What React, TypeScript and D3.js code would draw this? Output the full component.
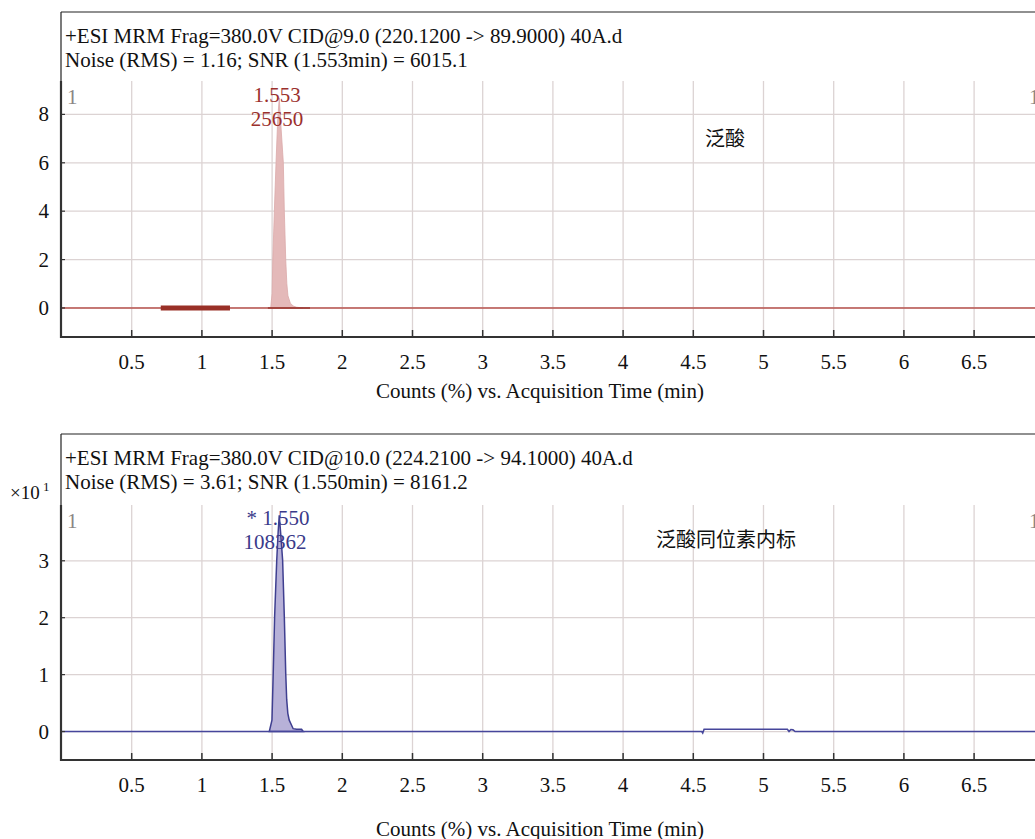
import React from "react"
import { scaleLinear, area, line } from "d3"

// x ticks (min)
const xTicks = [0.5, 1, 1.5, 2, 2.5, 3, 3.5, 4, 4.5, 5, 5.5, 6, 6.5]

// top trace: 泛酸, counts x10^? (axis units)
const topTicks = [0, 2, 4, 6, 8]
const topPeak: [number, number][] = [
  [1.49, 0], [1.5, 0.6], [1.505, 2], [1.516, 4], [1.528, 6], [1.54, 7.8],
  [1.551, 8.68], [1.562, 7.6], [1.58, 6], [1.587, 4], [1.597, 2], [1.605, 1.0],
  [1.613, 0.5], [1.63, 0.2], [1.65, 0.08], [1.675, 0.03], [1.72, 0]
]
const topBar = [0.707, 1.2]
const topIntegration = [1.47, 1.77]

// bottom trace: 泛酸同位素内标, x10^1
const bottomTicks = [0, 1, 2, 3]
const bottomPeak: [number, number][] = [
  [1.48, 0], [1.499, 0.2], [1.508, 1.03], [1.518, 2.02], [1.533, 3.01], [1.543, 3.5],
  [1.551, 3.8], [1.562, 3.45], [1.575, 3.01], [1.587, 2.02], [1.597, 1.03], [1.604, 0.56],
  [1.612, 0.32], [1.622, 0.2], [1.65, 0.05], [1.675, 0.04], [1.71, 0.04], [1.722, 0]
]
const bottomBase: [number, number][] = [
  [0, 0], [1.48, 0], [1.722, 0], [4.56, 0], [4.567, -0.025], [4.577, 0.04],
  [5.17, 0.04], [5.182, 0.0], [5.195, 0.035], [5.21, 0.03], [5.225, 0], [7.2, 0]
]

const W = 1035
const H = 839
const FONT = "'Liberation Serif', 'Times New Roman', serif"
const CJK = "'Noto Sans CJK SC', sans-serif"

type PanelProps = {
  top: number
  plotTop: number
  axisY: number
  yDomain: [number, number]
  ticks: number[]
  header: string[]
  lineColor: string
  children: (x: any, y: any) => React.ReactNode
  titleY: number
}

function Panel(props: PanelProps) {
  const { top, plotTop, axisY, yDomain, ticks, header, children, titleY } = props
  const x = scaleLinear().domain([0, 7]).range([61.5, 61.5 + 7 * 140.4])
  const y = scaleLinear().domain(yDomain).range([axisY, plotTop])
  return (
    <g>
      {/* frame */}
      <line x1={61} x2={W} y1={top} y2={top} stroke="#222" strokeWidth={1.2} />
      <line x1={61} x2={61} y1={top} y2={plotTop} stroke="#222" strokeWidth={1.2} />
      {header.map((h, i) => (
        <text key={i} x={65} y={top + 24 + i * 24} dominantBaseline="central" fontSize={21} fontFamily={FONT} fill="#111">
          {h}
        </text>
      ))}
      {/* grid */}
      {xTicks.map(t => (
        <line key={"gx" + t} x1={x(t)} x2={x(t)} y1={plotTop} y2={axisY} stroke="#dcd3d3" strokeWidth={1.3} />
      ))}
      {ticks.map(t => (
        <line key={"gy" + t} x1={61} x2={W} y1={y(t)} y2={y(t)} stroke="#dcd3d3" strokeWidth={1.3} />
      ))}
      {children(x, y)}
      {/* axes */}
      <line x1={61} x2={61} y1={plotTop} y2={axisY + 1} stroke="#333" strokeWidth={2.2} />
      <line x1={60} x2={W} y1={axisY} y2={axisY} stroke="#333" strokeWidth={2.2} />
      {xTicks.map(t => (
        <g key={"tx" + t}>
          <line x1={x(t)} x2={x(t)} y1={axisY} y2={axisY - 7} stroke="#333" strokeWidth={1.5} />
          <text x={x(t)} y={axisY + 25} textAnchor="middle" dominantBaseline="central" fontSize={21} fontFamily={FONT} fill="#111">
            {t}
          </text>
        </g>
      ))}
      {ticks.map(t => (
        <g key={"ty" + t}>
          <line x1={61} x2={65} y1={y(t)} y2={y(t)} stroke="#333" strokeWidth={1.2} />
          <text x={49} y={y(t)} textAnchor="end" dominantBaseline="central" fontSize={21} fontFamily={FONT} fill="#111">
            {t}
          </text>
        </g>
      ))}
      <text x={67} y={plotTop + 16} dominantBaseline="central" fontSize={21} fontFamily={FONT} fill="#8a8585">1</text>
      <text x={1029} y={plotTop + 16} dominantBaseline="central" fontSize={21} fontFamily={FONT} fill="#8a8585">1</text>
      <text x={540} y={titleY} textAnchor="middle" dominantBaseline="central" fontSize={21} fontFamily={FONT} fill="#111">
        Counts (%) vs. Acquisition Time (min)
      </text>
    </g>
  )
}

export default function App() {
  return (
    <div style={{ position: "absolute", left: 0, top: 0 }}>
      <svg width={W} height={H} style={{ display: "block", background: "#fff" }}>
        <Panel
          top={12}
          plotTop={81}
          axisY={337}
          yDomain={[-1.2, 9.38]}
          ticks={topTicks}
          header={[
            "+ESI MRM Frag=380.0V CID@9.0 (220.1200 -> 89.9000) 40A.d",
            "Noise (RMS) = 1.16; SNR (1.553min) = 6015.1"
          ]}
          lineColor="#b5514b"
          titleY={391}
        >
          {(x, y) => {
            const a = area<[number, number]>().x(d => x(d[0])).y0(y(0)).y1(d => y(d[1]))
            return (
              <g>
                <path d={a(topPeak) || ""} fill="#e4b9b9" stroke="#dba9a9" strokeWidth={0.8} />
                <line x1={61} x2={W} y1={y(0)} y2={y(0)} stroke="#b8554f" strokeWidth={1.6} />
                <line x1={x(topIntegration[0])} x2={x(topIntegration[1])} y1={y(0)} y2={y(0)} stroke="#9a3a33" strokeWidth={1.6} />
                <line x1={x(topBar[0])} x2={x(topBar[1])} y1={y(0)} y2={y(0)} stroke="#993027" strokeWidth={5} />
                <text x={277} y={95} textAnchor="middle" dominantBaseline="central" fontSize={21} fontFamily={FONT} fill="#9b302c">1.553</text>
                <text x={277} y={119} textAnchor="middle" dominantBaseline="central" fontSize={21} fontFamily={FONT} fill="#9b302c">25650</text>
                <text x={725} y={137} textAnchor="middle" dominantBaseline="central" fontSize={20} fontFamily={CJK} fill="#111">泛酸</text>
              </g>
            )
          }}
        </Panel>
        <Panel
          top={434}
          plotTop={505}
          axisY={760}
          yDomain={[-0.5, 3.98]}
          ticks={bottomTicks}
          header={[
            "+ESI MRM Frag=380.0V CID@10.0 (224.2100 -> 94.1000) 40A.d",
            "Noise (RMS) = 3.61; SNR (1.550min) = 8161.2"
          ]}
          lineColor="#44449a"
          titleY={829}
        >
          {(x, y) => {
            const a = area<[number, number]>().x(d => x(d[0])).y0(y(0)).y1(d => y(d[1]))
            const l = line<[number, number]>().x(d => x(d[0])).y(d => y(d[1]))
            return (
              <g>
                <path d={a(bottomPeak) || ""} fill="#b7b1d8" stroke="#3f3f90" strokeWidth={1.5} />
                <path d={l(bottomBase) || ""} fill="none" stroke="#46469b" strokeWidth={1.6} />
                <text x={278} y={518} textAnchor="middle" dominantBaseline="central" fontSize={21} fontFamily={FONT} fill="#3a3a8a">* 1.550</text>
                <text x={275} y={542} textAnchor="middle" dominantBaseline="central" fontSize={21} fontFamily={FONT} fill="#3a3a8a">108362</text>
                <text x={726} y={538} textAnchor="middle" dominantBaseline="central" fontSize={20} fontFamily={CJK} fill="#111">泛酸同位素内标</text>
              </g>
            )
          }}
        </Panel>
        <text x={10} y={492} dominantBaseline="central" fontSize={19} fontFamily={FONT} fill="#111">×10</text>
        <text x={43} y={486} dominantBaseline="central" fontSize={13} fontFamily={FONT} fill="#111">1</text>
      </svg>
    </div>
  )
}
